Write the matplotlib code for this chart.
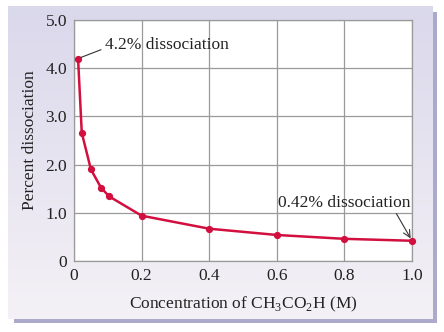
import matplotlib
matplotlib.use("Agg")
import matplotlib.pyplot as plt
import numpy as np
from matplotlib.patches import Rectangle

# Percent dissociation of acetic acid vs. concentration
conc = [0.012, 0.023, 0.05, 0.08, 0.104, 0.2, 0.4, 0.6, 0.8, 1.0]
pct = [4.2, 2.66, 1.9, 1.52, 1.34, 0.94, 0.67, 0.54, 0.46, 0.42]

xticks = [0, 0.2, 0.4, 0.6, 0.8, 1.0]
xtick_labels = ["0", "0.2", "0.4", "0.6", "0.8", "1.0"]
yticks = [0, 1, 2, 3, 4, 5]
ytick_labels = ["0", "1.0", "2.0", "3.0", "4.0", "5.0"]

plt.rcParams["font.family"] = ["Liberation Serif", "DejaVu Serif"]
plt.rcParams["mathtext.fontset"] = "custom"
plt.rcParams["mathtext.rm"] = "Liberation Serif"

FS = 12.5
W, H = 444, 332
fig = plt.figure(figsize=(W / 100, H / 100), dpi=100, facecolor="white")


def px_rect(x0, y0, x1, y1):
    # pixel box (top-left origin) -> figure fraction rect
    return [x0 / W, 1 - y1 / H, (x1 - x0) / W, (y1 - y0) / H]


# drop shadow behind the panel
fig.patches.append(Rectangle((14 / W, 1 - 323 / H), (437 - 14) / W, (323 - 12) / H,
                             transform=fig.transFigure, facecolor="#aba9cc",
                             edgecolor="none", zorder=0))

# lavender panel with a soft vertical gradient
bg = fig.add_axes(px_rect(8, 6, 432, 319), zorder=1)
grad = np.linspace(0, 1, 256).reshape(-1, 1)
top = np.array([0.855, 0.847, 0.922])
bot = np.array([0.957, 0.945, 0.965])
img = top + (bot - top) * grad[..., None]
bg.imshow(img, aspect="auto", extent=[0, 1, 0, 1])
bg.set_axis_off()

ax = fig.add_axes(px_rect(74, 20, 412, 261), zorder=2)
ax.set_facecolor("white")
ax.set_xlim(0, 1.0)
ax.set_ylim(0, 5.0)
ax.set_xticks(xticks)
ax.set_xticklabels(xtick_labels)
ax.set_yticks(yticks)
ax.set_yticklabels(ytick_labels)
ax.tick_params(length=0, labelsize=FS, colors="#222222", pad=5)
ax.grid(True, color="#9a9a9a", linewidth=0.9)
ax.set_axisbelow(True)
for s in ax.spines.values():
    s.set_color("#9a9a9a")
    s.set_linewidth(0.9)

ax.plot(conc, pct, color="#d2103f", linewidth=1.8, marker="o",
        markersize=4.2, clip_on=False, zorder=3)

ax.set_xlabel(r"Concentration of CH$_3$CO$_2$H (M)", fontsize=FS,
              color="#222222", labelpad=8)
ax.set_ylabel("Percent dissociation", fontsize=FS, color="#222222",
              labelpad=5)

ax.annotate("4.2% dissociation", xy=(conc[0], pct[0]), xytext=(0.092, 4.40),
            fontsize=FS, color="#222222", va="baseline", ha="left",
            arrowprops=dict(arrowstyle="-", color="#333333", lw=0.8,
                            shrinkA=1, shrinkB=2, relpos=(0.0, 0.3)))
ax.annotate("0.42% dissociation", xy=(conc[-1], pct[-1]), xytext=(0.604, 1.125),
            fontsize=FS, color="#222222", va="baseline", ha="left",
            arrowprops=dict(arrowstyle="->", color="#333333", lw=0.8,
                            shrinkA=0, shrinkB=2,
                            relpos=(0.88, 0.0)))

fig.savefig("out.png", dpi=100, facecolor="white")
